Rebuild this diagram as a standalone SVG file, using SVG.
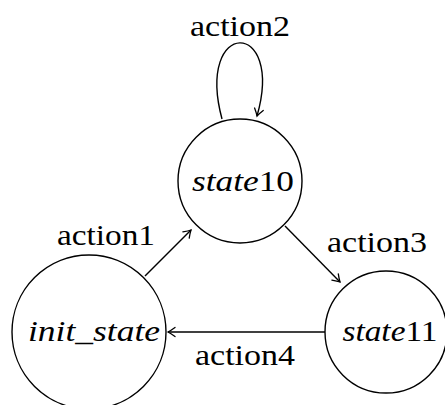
<svg xmlns="http://www.w3.org/2000/svg" width="445" height="405" viewBox="0 0 445 405">
<defs>
<marker id="arr" markerWidth="12" markerHeight="12" refX="0" refY="0" viewBox="-8 -6 10 12" orient="auto" markerUnits="userSpaceOnUse">
<path d="M -7,-4.5 Q -2.5,-1.2 0,0 Q -2.5,1.2 -7,4.5" fill="none" stroke="#000" stroke-width="1.3" stroke-linecap="round"/>
</marker>
<style>
.node{fill:#fff;stroke:#000;stroke-width:1.4}
.edge{fill:none;stroke:#000;stroke-width:1.4;marker-end:url(#arr)}
.it{font-style:italic}
</style>
</defs>
<rect width="445" height="405" fill="#fff"/>
<g id="connectors">
<path class="edge" d="M 222,119 C 195,18 285,18 257,116"/>
<line class="edge" x1="145" y1="276" x2="191" y2="230"/>
<line class="edge" x1="285" y1="226" x2="340" y2="282"/>
<line class="edge" x1="325" y1="332" x2="168" y2="332"/>
<g font-family="Liberation Serif, serif" font-size="30">
<text x="240" y="36" text-anchor="middle" textLength="100" lengthAdjust="spacingAndGlyphs">action2</text>
<text x="106" y="245" text-anchor="middle" textLength="98" lengthAdjust="spacingAndGlyphs">action1</text>
<text x="377" y="252" text-anchor="middle" textLength="100" lengthAdjust="spacingAndGlyphs">action3</text>
<text x="245" y="365" text-anchor="middle" textLength="100" lengthAdjust="spacingAndGlyphs">action4</text>
</g>
</g>
<g id="state10" font-family="Liberation Serif, serif" font-size="30">
<circle class="node" cx="240" cy="181" r="62"/>
<text x="243" y="191" text-anchor="middle" textLength="102" lengthAdjust="spacingAndGlyphs"><tspan class="it">state</tspan>10</text>
</g>
<g id="init_state" font-family="Liberation Serif, serif" font-size="30">
<circle class="node" cx="89" cy="332" r="77"/>
<text class="it" x="94" y="341" text-anchor="middle" textLength="132" lengthAdjust="spacingAndGlyphs">init_state</text>
</g>
<g id="state11" font-family="Liberation Serif, serif" font-size="30">
<circle class="node" cx="386" cy="332" r="61"/>
<text x="390" y="341" text-anchor="middle" textLength="95" lengthAdjust="spacingAndGlyphs"><tspan class="it">state</tspan>11</text>
</g>
</svg>
